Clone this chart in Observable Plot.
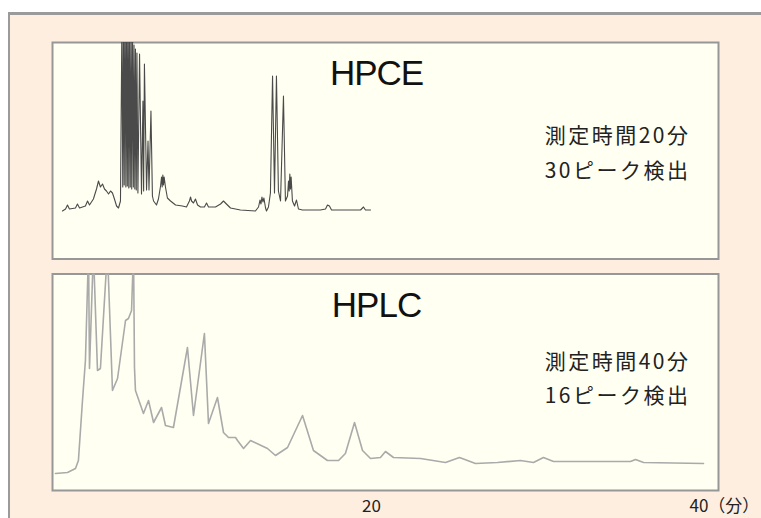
<!DOCTYPE html>
<html><head><meta charset="utf-8">
<script src="https://cdn.jsdelivr.net/npm/d3@7"></script>
<script src="https://cdn.jsdelivr.net/npm/@observablehq/plot@0.6"></script>
<style>
html,body{margin:0;padding:0;background:#fff;}
#wrap{position:relative;width:761px;height:518px;overflow:hidden;background:#fff;}
#bg{position:absolute;left:8px;top:12px;right:0;bottom:0;background:#fdeee0;border-top:3px solid #9a9a9a;border-left:2px solid #9a9a9a;}
#chart{position:absolute;left:0;top:0;}
</style></head>
<body><div id="wrap"><div id="bg"></div><div id="chart"></div></div>
<script>
const methods = ["HPCE", "HPLC"];
const infoText = ["測定時間20分\n30ピーク検出", "測定時間40分\n16ピーク検出"];
const tickValues = [20, 40];
const tickLabels = ["20", "40（分）"];

// HPCE electropherogram (time in min, signal in arbitrary units)
const ceTime = [1.04,1.23,1.35,1.47,1.84,1.96,2.09,2.45,2.58,2.70,2.94,3.13,3.25,3.37,3.50,3.62,3.74,3.87,3.99,4.11,4.23,4.36,4.48,4.60,
  4.69,4.74,4.79,4.83,4.88,4.93,4.97,5.02,5.06,5.11,5.15,5.20,5.25,5.29,5.34,5.39,5.43,5.48,5.52,5.57,5.61,5.67,5.77,5.89,5.98,6.02,6.07,6.20,6.29,6.35,6.47,6.56,
  6.63,6.81,6.93,7.06,7.12,7.16,7.20,7.24,7.28,7.36,7.48,7.67,7.98,8.40,8.65,8.83,8.90,8.96,9.08,9.20,9.33,9.51,9.75,9.88,10.00,10.43,10.74,10.92,11.10,11.35,11.96,12.88,
  13.07,13.16,13.22,13.28,13.34,13.40,13.50,13.56,13.68,13.80,13.93,14.05,14.17,14.29,14.42,14.60,14.72,14.85,14.91,14.95,14.99,15.03,15.07,15.15,15.28,15.40,15.52,15.77,
  16.87,17.18,17.30,17.42,17.55,18.10,19.33,19.51,19.63,19.94];
const ceSignal = [48,50,54,50,51,55,51,53,58,54,60,70,78,72,75,70,68,65,68,66,60,53,51,58,
  240,72,240,74,240,72,240,73,240,71,240,72,240,70,222,72,214,70,210,69,206,66,205,65,158,68,195,69,118,69,148,63,
  58,54,60,73,82,72,84,74,82,72,61,58,54,53,52,58,62,58,56,60,54,52,52,56,52,52,55,58,55,51,49,48,
  52,59,55,62,57,61,51,48,52,66,183,66,183,68,58,163,58,63,78,68,85,70,82,58,53,59,50,49,
  49,50,54,53,49,49,49,52,49,49];

// HPLC chromatogram
const lcTime = [0.61,1.35,1.84,2.02,2.27,2.45,2.64,2.70,2.94,3.19,3.37,3.80,4.11,4.42,4.91,5.09,5.28,5.40,5.46,5.52,6.01,6.32,6.63,7.12,7.36,7.85,
  8.71,9.08,9.75,10.00,10.55,10.92,11.23,11.66,11.78,12.15,12.58,13.62,14.11,14.85,15.77,16.44,17.30,17.98,18.40,18.96,19.45,19.94,
  20.55,20.86,21.35,23.01,24.54,25.40,26.38,27.73,29.14,29.94,30.55,31.17,32.82,35.89,36.20,36.69,40.37];
const lcSignal = [17,18,22,30,90,130,240,122,240,120,122,240,100,112,170,172,180,240,123,100,77,90,68,83,65,63,
  143,75,157,67,93,58,53,53,50,42,50,42,35,43,75,40,30,30,37,68,40,32,
  33,39,33,32,28,33,27,28,30,28,33,29,29,29,31,28,27];

const ce = ceTime.map((t, i) => ({method: "HPCE", t, v: ceSignal[i]}));
const lc = lcTime.map((t, i) => ({method: "HPLC", t, v: lcSignal[i]}));
const panels = methods.map((m, i) => ({method: m, info: infoText[i]}));
const ticks = tickValues.map((t, i) => ({method: "HPLC", t, label: tickLabels[i]}));

const infoStyle = {fy: "method", text: "info", frameAnchor: "top-right", dx: -28, lineAnchor: "top", textAnchor: "end",
  fontSize: 21, lineHeight: 1.65, fontFamily: "Noto Sans CJK JP, sans-serif", fill: "#222"};

const chart = Plot.plot({
  width: 761, height: 518,
  marginTop: 42, marginBottom: 28, marginLeft: 52, marginRight: 43,
  style: {background: "transparent", overflow: "visible"},
  fy: {domain: methods, paddingInner: 30/463, paddingOuter: 0, round: false, axis: null},
  x: {domain: [0.43, 41.29], axis: null},
  y: {domain: [0, 216.5], axis: null},
  marks: [
    Plot.frame({fill: "#fffff2", stroke: "#979797", strokeWidth: 2}),
    Plot.line(ce, {x: "t", y: "v", fy: "method", stroke: "#4a4a4a", strokeWidth: 1.1, clip: true}),
    Plot.line(lc, {x: "t", y: "v", fy: "method", stroke: "#aaaaaa", strokeWidth: 1.6, clip: true}),
    Plot.text(panels, {fy: "method", text: "method", frameAnchor: "top", dx: -9, dy: 18, lineAnchor: "top",
      fontSize: 35, fontFamily: "Liberation Sans, Arial, sans-serif", fill: "#111"}),
    Plot.text(panels.slice(0, 1), {...infoStyle, dy: 76}),
    Plot.text(panels.slice(1), {...infoStyle, dy: 70}),
    Plot.text(ticks.slice(0, 1), {fy: "method", x: "t", text: "label", frameAnchor: "bottom", dy: 16, lineAnchor: "middle",
      fontSize: 17, fontFamily: "Noto Sans CJK JP, sans-serif", fill: "#222"}),
    Plot.text(ticks.slice(1), {fy: "method", x: "t", text: "label", frameAnchor: "bottom", dy: 16, dx: -8, lineAnchor: "middle", textAnchor: "start",
      fontSize: 17, fontFamily: "Noto Sans CJK JP, sans-serif", fill: "#222"})
  ]
});
d3.select(chart).selectAll("text")
  .filter(function() { return this.textContent.includes("検出"); })
  .style("letter-spacing", "2.5px");
d3.select(chart).selectAll("text")
  .filter(function() { return this.textContent.startsWith("HP"); })
  .style("letter-spacing", "-1px");
document.getElementById("chart").appendChild(chart);
</script></body></html>
